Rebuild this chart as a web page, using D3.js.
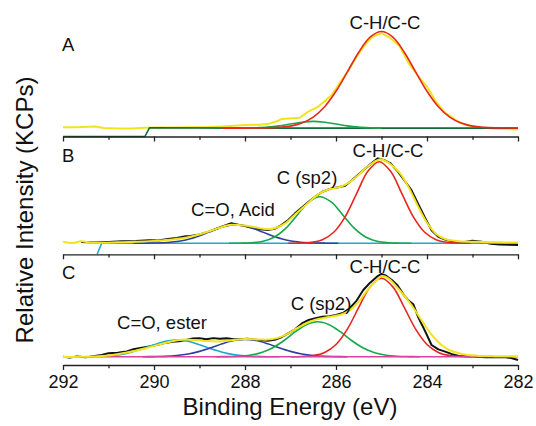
<!DOCTYPE html>
<html>
<head>
<meta charset="utf-8">
<script src="https://cdn.jsdelivr.net/npm/d3@7"></script>
<style>
  body { margin: 0; background: #fff; }
  svg { display: block; font-family: "Liberation Sans", Arial, sans-serif; }
  .axis path, .axis line { stroke: #222; stroke-width: 1.3; }
  .axis text { font-size: 18px; fill: #111; }
  .peak-label, .panel-label { font-size: 18.5px; fill: #111; }
  .axis-title { font-size: 24px; fill: #111; }
</style>
</head>
<body>
<svg id="chart"></svg>
<script>
// binding energy ticks (eV)
const majorTicks = [292, 290, 288, 286, 284, 282];
const minorTicks = [291, 289, 287, 285, 283];

// ---- panel A: [energy, relative intensity] ----
const dataA = [[292,8.9],[291.7,8.8],[291.3,9.6],[291.1,8.0],[290.8,7.7],[290.5,7.7],[290.2,8.3],[289.9,8.5],
  [289.6,8.6],[289.2,8.8],[288.9,8.9],[288.5,9.6],[288.0,10.9],[287.7,11.2],[287.5,11.8],[287.3,14.5],
  [287.2,16.6],[286.8,17.9],[286.6,24],[286.4,28.1],[286.1,39.3],[285.9,52],[285.7,65],[285.5,79],
  [285.35,88],[285.2,95],[285.0,98.4],[284.8,93.6],[284.6,86],[284.4,69.6],[284.2,58],[284.0,47.3],
  [283.8,33],[283.6,22.5],[283.3,13.7],[283.1,10.5],[282.9,8.9],[282.5,7.3],[282.0,6.7]];
const chA = [[288.5,8.0],[288,8.0],[287.75,8.1],[287.5,8.2],[287.25,8.7],[287,9.9],[286.75,12.8],[286.5,18.5],
  [286.25,28.4],[286,43.1],[285.75,61.5],[285.5,80.3],[285.25,94.6],[285,100],[284.75,94.6],[284.5,80.3],
  [284.25,61.5],[284,43.1],[283.75,28.4],[283.5,18.5],[283.25,12.8],[283,9.9],[282.75,8.7],[282.5,8.2],
  [282.25,8.1],[282,8.0]];
const sp2A = [[288,8.0],[287.75,8.3],[287.5,8.9],[287.25,10.1],[287,11.9],[286.75,13.6],[286.5,14.4],
  [286.25,13.6],[286,11.9],[285.75,10.1],[285.5,8.9],[285.25,8.3],[285,8.0]];
const baseA = [[292,0],[290.2,0],[290.1,8.3],[288,8.0],[282,8.0]];

// ---- panel B ----
const dataB = [[291.6,13.2],[291.3,12.8],[291.0,13.4],[290.7,14.0],[290.4,14.4],[290.1,15.2],[289.9,15.0],
  [289.7,16.5],[289.5,17.6],[289.3,19.5],[289.2,19.8],[289.0,21.5],[288.8,24.5],[288.6,28.1],[288.45,31],
  [288.3,33.5],[288.15,32],[288.0,30.6],[287.85,28.5],[287.7,27.4],[287.5,26.2],[287.35,27.5],[287.2,31.6],
  [287.05,37],[286.9,44.2],[286.75,50.5],[286.6,56.8],[286.45,62.5],[286.3,67.6],[286.1,71.2],[285.95,72.5],
  [285.8,74],[285.65,80],[285.5,86.5],[285.35,93],[285.2,99],[285.08,103.6],[284.95,102],[284.8,98.2],
  [284.65,90],[284.5,80],[284.35,70],[284.2,55],[284.05,40],[283.9,26],[283.75,19],[283.6,16],[283.4,13.6],
  [283.2,13.0],[283.0,14.7],[282.8,13.5],[282.6,11.5],[282.4,10.5],[282.2,10.2],[282.0,10.1]];
const fitB = [[292,13.6],[291.8,12.2],[291.6,14.0],[291.4,12.8],[291.2,12.6],[290.8,13.0],[290.4,13.5],
  [290.0,14.5],[289.6,16.0],[289.2,19],[288.9,23],[288.6,28],[288.3,31.8],[288.0,31.0],[287.7,28.5],
  [287.5,27.0],[287.3,29],[287.1,34],[286.9,43],[286.6,56],[286.35,66],[286.1,71],[285.9,73],[285.7,78],
  [285.5,86],[285.3,95],[285.1,101.5],[285.0,102.5],[284.85,99],[284.6,88],[284.4,72],[284.2,52],
  [284.0,34],[283.8,22],[283.6,16.5],[283.3,14],[282.9,13.5],[282.5,13],[282.0,12.7]];
const chB = [[287.05,11.9],[286.8,12.1],[286.55,12.9],[286.3,15.8],[286.05,23.8],[285.8,40.5],[285.55,65.3],
  [285.3,89.6],[285.05,100],[284.8,89.6],[284.55,65.3],[284.3,40.5],[284.05,23.8],[283.8,15.8],[283.55,12.9],
  [283.3,12.1],[283.05,11.9]];
const sp2B = [[288.35,11.9],[288.1,12.0],[287.85,12.5],[287.6,14.1],[287.35,18.7],[287.1,28.2],[286.85,42.4],
  [286.6,56.3],[286.35,62.2],[286.1,56.3],[285.85,42.4],[285.6,28.2],[285.35,18.7],[285.1,14.1],[284.85,12.5],
  [284.6,12.0],[284.35,11.9]];
const acidB = [[290.45,11.9],[290.2,12.0],[289.95,12.2],[289.7,12.8],[289.45,14.1],[289.2,16.8],[288.95,20.9],
  [288.7,25.8],[288.45,30.0],[288.2,31.6],[287.95,30.0],[287.7,25.8],[287.45,20.9],[287.2,16.8],[286.95,14.1],
  [286.7,12.8],[286.45,12.2],[286.2,12.0],[285.95,11.9]];
const baseB = [[291.25,0],[291.15,11.9],[282,11.9]];

// ---- panel C ----
const dataC = [[292,9.6],[291.85,8.5],[291.7,9.8],[291.5,8.8],[291.3,10.4],[291.15,11.5],[291.0,13.5],
  [290.8,14.2],[290.6,15.6],[290.45,18.1],[290.3,19.5],[290.1,21.5],[289.9,23.5],[289.75,25.5],[289.6,26.9],
  [289.45,27.5],[289.3,28.8],[289.15,30.5],[289.0,30.8],[288.85,29.8],[288.7,31.0],[288.55,30.4],[288.4,30.9],
  [288.25,29.8],[288.1,29.6],[287.95,30.2],[287.8,29.3],[287.65,28.6],[287.5,28.1],[287.35,29],[287.2,32],
  [287.05,36.5],[286.9,41.1],[286.75,48],[286.6,51.9],[286.45,54],[286.3,55.7],[286.15,56.3],[286.0,57.7],
  [285.85,60],[285.7,65.4],[285.55,74],[285.4,86.5],[285.25,95],[285.1,101.9],[285.0,105],[284.9,103],
  [284.75,97],[284.65,92],[284.5,80],[284.4,74],[284.3,70],[284.2,56],[284.05,40],[283.9,23.1],[283.75,18],
  [283.6,15.4],[283.45,12.5],[283.3,10.4],[283.1,10.0],[282.9,9.6],[282.7,9.0],[282.5,8.8],[282.3,9.2],
  [282.15,8.0],[282.0,5.8]];
const fitC = [[292,9.2],[291.6,9.5],[291.2,10.2],[290.8,12.5],[290.5,15.5],[290.2,19],[289.9,23.5],[289.6,27.5],
  [289.4,29.2],[289.2,29.2],[288.9,27.8],[288.6,27.0],[288.3,28.5],[288.0,30],[287.7,29.5],[287.5,29.3],
  [287.3,31],[287.1,35],[286.9,41],[286.7,47],[286.5,51.5],[286.3,54],[286.1,56],[285.9,58],[285.7,63],
  [285.5,73],[285.3,87],[285.1,98],[285.0,102.5],[284.85,100],[284.7,92],[284.5,80],[284.3,66],[284.1,50],
  [283.9,35],[283.7,24],[283.5,17],[283.2,12.5],[282.9,10.8],[282.5,10.2],[282.0,10.0]];
const chC = [[287,9.5],[286.75,9.8],[286.5,10.9],[286.25,14.5],[286,23.7],[285.75,41.4],[285.5,66.4],
  [285.25,90.1],[285,100],[284.75,90.1],[284.5,66.4],[284.25,41.4],[284,23.7],[283.75,14.5],[283.5,10.9],
  [283.25,9.8],[283,9.5]];
const sp2C = [[288.65,9.5],[288.4,9.7],[288.15,10.1],[287.9,11.3],[287.65,14.1],[287.4,19.6],[287.15,28.0],
  [286.9,38.1],[286.65,46.5],[286.4,49.9],[286.15,46.5],[285.9,38.1],[285.65,28.0],[285.4,19.6],[285.15,14.1],
  [284.9,11.3],[284.65,10.1],[284.4,9.7],[284.15,9.5]];
const coC = [[290.25,9.5],[290,9.7],[289.75,10.0],[289.5,10.9],[289.25,12.7],[289,15.7],[288.75,19.8],
  [288.5,24.5],[288.25,28.2],[288,29.6],[287.75,28.2],[287.5,24.5],[287.25,19.8],[287,15.7],[286.75,12.7],
  [286.5,10.9],[286.25,10.0],[286,9.7],[285.75,9.5]];
const esterC = [[291.75,9.5],[291.5,9.6],[291.25,9.9],[291,10.5],[290.75,12.0],[290.5,14.8],[290.25,18.8],
  [290,23.4],[289.75,27.3],[289.5,28.8],[289.25,27.3],[289,23.4],[288.75,18.8],[288.5,14.8],[288.25,12.0],
  [288,10.5],[287.75,9.9],[287.5,9.6],[287.25,9.5]];
const baseC = [[292,9.5],[282,9.5]];

const width = 536, height = 426;

const svg = d3.select('#chart')
    .attr('width', width)
    .attr('height', height);

// shared energy axis, reversed like the original plot
const xScale = d3.scaleLinear()
    .domain([292, 282])
    .range([63, 518]);

// one entry per stacked panel: axis y and y for value 100
const panels = [
  { label: 'A', y0: 136.5, y100: 31.5, labelY: 50.5, showTicks: false,
    lines: [
      { data: dataA, color: '#f2e41c', w: 2, smooth: false },
      { data: baseA, color: '#0f6b36', w: 1.6, smooth: false },
      { data: sp2A, color: '#14a84a', w: 1.6, smooth: true },
      { data: chA, color: '#e8261f', w: 1.6, smooth: true }
    ],
    peaks: [{ text: 'C-H/C-C', x: 385, y: 28.5 }] },
  { label: 'B', y0: 254.3, y100: 161.7, labelY: 161.5, showTicks: false,
    lines: [
      { data: dataB, color: '#111', w: 2, smooth: false },
      { data: baseB, color: '#1aa9cf', w: 1.6, smooth: false },
      { data: acidB, color: '#2f3f9e', w: 1.6, smooth: true },
      { data: sp2B, color: '#14a84a', w: 1.6, smooth: true },
      { data: chB, color: '#e8261f', w: 1.6, smooth: true },
      { data: fitB, color: '#f2e41c', w: 2, smooth: true }
    ],
    peaks: [
      { text: 'C-H/C-C', x: 388, y: 156.5 },
      { text: 'C (sp2)', x: 307, y: 184 },
      { text: 'C=O, Acid', x: 233, y: 216 }
    ] },
  { label: 'C', y0: 365, y100: 278.3, labelY: 279, showTicks: true,
    lines: [
      { data: dataC, color: '#111', w: 2, smooth: false },
      { data: esterC, color: '#1aa9cf', w: 1.6, smooth: true },
      { data: coC, color: '#2f3f9e', w: 1.6, smooth: true },
      { data: sp2C, color: '#14a84a', w: 1.6, smooth: true },
      { data: chC, color: '#e8261f', w: 1.6, smooth: true },
      { data: baseC, color: '#d8459e', w: 1.6, smooth: false },
      { data: fitC, color: '#f2e41c', w: 2, smooth: true }
    ],
    peaks: [
      { text: 'C-H/C-C', x: 385, y: 273 },
      { text: 'C (sp2)', x: 321, y: 310 },
      { text: 'C=O, ester', x: 162, y: 329 }
    ] }
];

panels.forEach(p => {
  const yScale = d3.scaleLinear().domain([0, 100]).range([p.y0, p.y100]);

  p.lines.forEach(l => {
    const line = d3.line()
        .x(d => xScale(d[0]))
        .y(d => yScale(d[1]))
        .curve(l.smooth ? d3.curveCatmullRom : d3.curveLinear);
    svg.append('path')
        .datum(l.data)
        .attr('fill', 'none')
        .attr('stroke', l.color)
        .attr('stroke-width', l.w)
        .attr('stroke-linejoin', 'round')
        .attr('d', line);
  });

  // major + minor ticks hang down from the panel's base line
  const major = d3.axisBottom(xScale)
      .tickValues(majorTicks)
      .tickSize(5)
      .tickSizeOuter(0)
      .tickPadding(5)
      .tickFormat(p.showTicks ? d3.format('d') : '');
  svg.append('g')
      .attr('class', 'axis')
      .attr('transform', `translate(0,${p.y0})`)
      .call(major);

  const minor = d3.axisBottom(xScale)
      .tickValues(minorTicks)
      .tickSize(3.3)
      .tickFormat('');
  svg.append('g')
      .attr('class', 'axis')
      .attr('transform', `translate(0,${p.y0})`)
      .call(minor)
      .select('.domain').remove();

  svg.append('text')
      .attr('class', 'panel-label')
      .attr('x', 62)
      .attr('y', p.labelY)
      .text(p.label);

  p.peaks.forEach(k => {
    svg.append('text')
        .attr('class', 'peak-label')
        .attr('x', k.x)
        .attr('y', k.y)
        .style('text-anchor', 'middle')
        .text(k.text);
  });
});

// axis titles
svg.append('text')
    .attr('class', 'axis-title')
    .attr('x', 290)
    .attr('y', 415)
    .style('text-anchor', 'middle')
    .text('Binding Energy (eV)');

svg.append('text')
    .attr('class', 'axis-title')
    .attr('transform', 'translate(33,210) rotate(-90)')
    .style('text-anchor', 'middle')
    .text('Relative Intensity (KCPs)');
</script>
</body>
</html>
